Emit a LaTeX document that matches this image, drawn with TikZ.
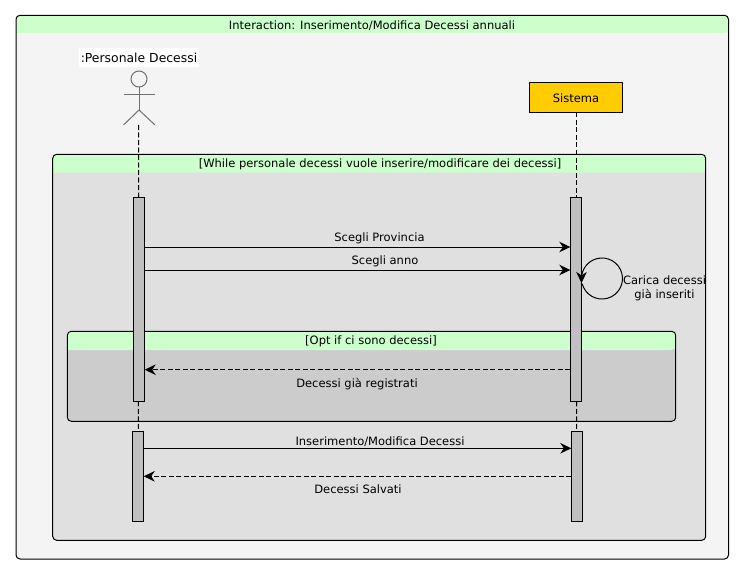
\documentclass[tikz,border=0pt]{standalone}
\usepackage{fontspec}
\setmainfont{DejaVu Sans}
\usetikzlibrary{arrows.meta}
\definecolor{headgreen}{HTML}{CCFFCC}
\definecolor{outerbg}{HTML}{F4F4F4}
\definecolor{whilebg}{HTML}{E0E0E0}
\definecolor{optbg}{HTML}{CCCCCC}
\definecolor{actgray}{HTML}{C0C0C0}
\definecolor{sysyellow}{HTML}{FFCC00}
\definecolor{actorgray}{HTML}{707070}
\tikzstyle{txt}=[font=\fontsize{11.5}{14}\selectfont,inner sep=0pt,align=center]
\tikzstyle{framebox}=[rectangle,rounded corners=4pt,anchor=north west,inner sep=0pt,outer sep=0pt]
\tikzstyle{frameline}=[draw,line width=1pt,rounded corners=4pt]
\tikzstyle{activation}=[rectangle,draw,fill=actgray,line width=1pt,minimum width=11.4pt,inner sep=0pt,outer sep=0pt]
\tikzstyle{lifeline}=[draw,line width=1pt,dash pattern=on 5pt off 2.5pt]
\tikzstyle{actorline}=[draw=actorgray,line width=1pt]
\tikzstyle{msg}=[draw,line width=1pt,-{Stealth[length=11pt,width=10.5pt,inset=3.5pt]}]
\tikzstyle{msgdashed}=[msg,dash pattern=on 5pt off 2.5pt]

\begin{document}
\begin{tikzpicture}[x=1pt,y=-1pt]
    \useasboundingbox (0,0) rectangle (744,575);

    \foreach \name/\xa/\ya/\w/\h/\yh/\bg/\tx/\ty/\txtlabel in {
        outer/16/15.3/712.5/543.7/33/outerbg/372/25.5/{Interaction: Inserimento/Modifica Decessi annuali},
        whileframe/52.7/154.3/653/386/172.7/whilebg/380/164/{[While personale decessi vuole inserire/modificare dei decessi]},
        optframe/67.3/331.3/608.4/90/350/optbg/371/341/{[Opt if ci sono decessi]}} {
        \node[framebox,fill=\bg,minimum width=\w,minimum height=\h] (\name) at (\xa,\ya) {};
        \fill[headgreen] (\name.west |- 0,\yh) [rounded corners=4pt] |- (\name.north) -| (\name.east |- 0,\yh) [sharp corners] -- cycle;
        \path[frameline] (\name.north west) rectangle (\name.south east);
        \node[txt] (\name title) at (\tx,\ty) {\txtlabel};
    }

    % attore
    \node[txt,font=\fontsize{12.4}{14}\selectfont,fill=white,minimum width=120pt,minimum height=19pt] (actorlabel) at (139,58) {:Personale Decessi};
    \node[circle,draw=actorgray,line width=1pt,minimum size=16pt,inner sep=0pt,outer sep=0pt] (head) at (139,79) {};
    \coordinate (hip) at (139,110);
    \coordinate (armL) at (123.5,95);
    \coordinate (armR) at (155,95);
    \coordinate (footL) at (123.5,125);
    \coordinate (footR) at (155,125);
    \coordinate (lifeL) at (138.5,125);
    \path[actorline] (head) -- (hip);
    \path[actorline] (armL) -- (armR);
    \path[actorline] (footL) -- (hip) -- (footR);

    \node[rectangle,draw,fill=sysyellow,line width=1pt,minimum width=93pt,minimum height=30pt,inner sep=0pt,outer sep=0pt,text height=10.5pt,text depth=0pt,font=\fontsize{11.5}{14}\selectfont] (sistema) at (576,97.5) {Sistema};

    \foreach \name/\x/\y/\h in {la1/139/299.3/204, la2/138/476.3/90, ra1/576/299.3/204, ra2/577/476.3/90}
        \node[activation,minimum height=\h] (\name) at (\x,\y) {};

    \foreach \source/\dest in {lifeL/la1, la1/la2, sistema/ra1, ra1/ra2}
        \path[lifeline] (\source) -- (\dest);

    \foreach \source/\dest/\y/\kind/\lx/\ly/\txtlabel in {
        la1.east/ra1.west/247/msg/379.5/238.7/{Scegli Provincia},
        la1.east/ra1.west/270/msg/385/261.2/{Scegli anno},
        ra1.west/la1.east/369.7/msgdashed/357/384.2/{Decessi già registrati},
        la2.east/ra2.west/448.3/msg/380/441.2/{Inserimento/Modifica Decessi},
        ra2.west/la2.east/476.3/msgdashed/358/489.7/{Decessi Salvati}} {
        \path[\kind] (\source |- 0,\y) -- (\dest |- 0,\y);
        \node[txt] at (\lx,\ly) {\txtlabel};
    }

    % messaggio riflessivo
    \coordinate (selfloop) at (602,278.5);
    \path[msg] ([shift={(195:20.5pt)}]selfloop) arc[start angle=195,delta angle=345,radius=20.5pt] -- ++(0,4.5);
    \node[txt] (selflabel) at (664.5,288.5) {Carica decessi\\[0.5pt]già inseriti};
\end{tikzpicture}
\end{document}
